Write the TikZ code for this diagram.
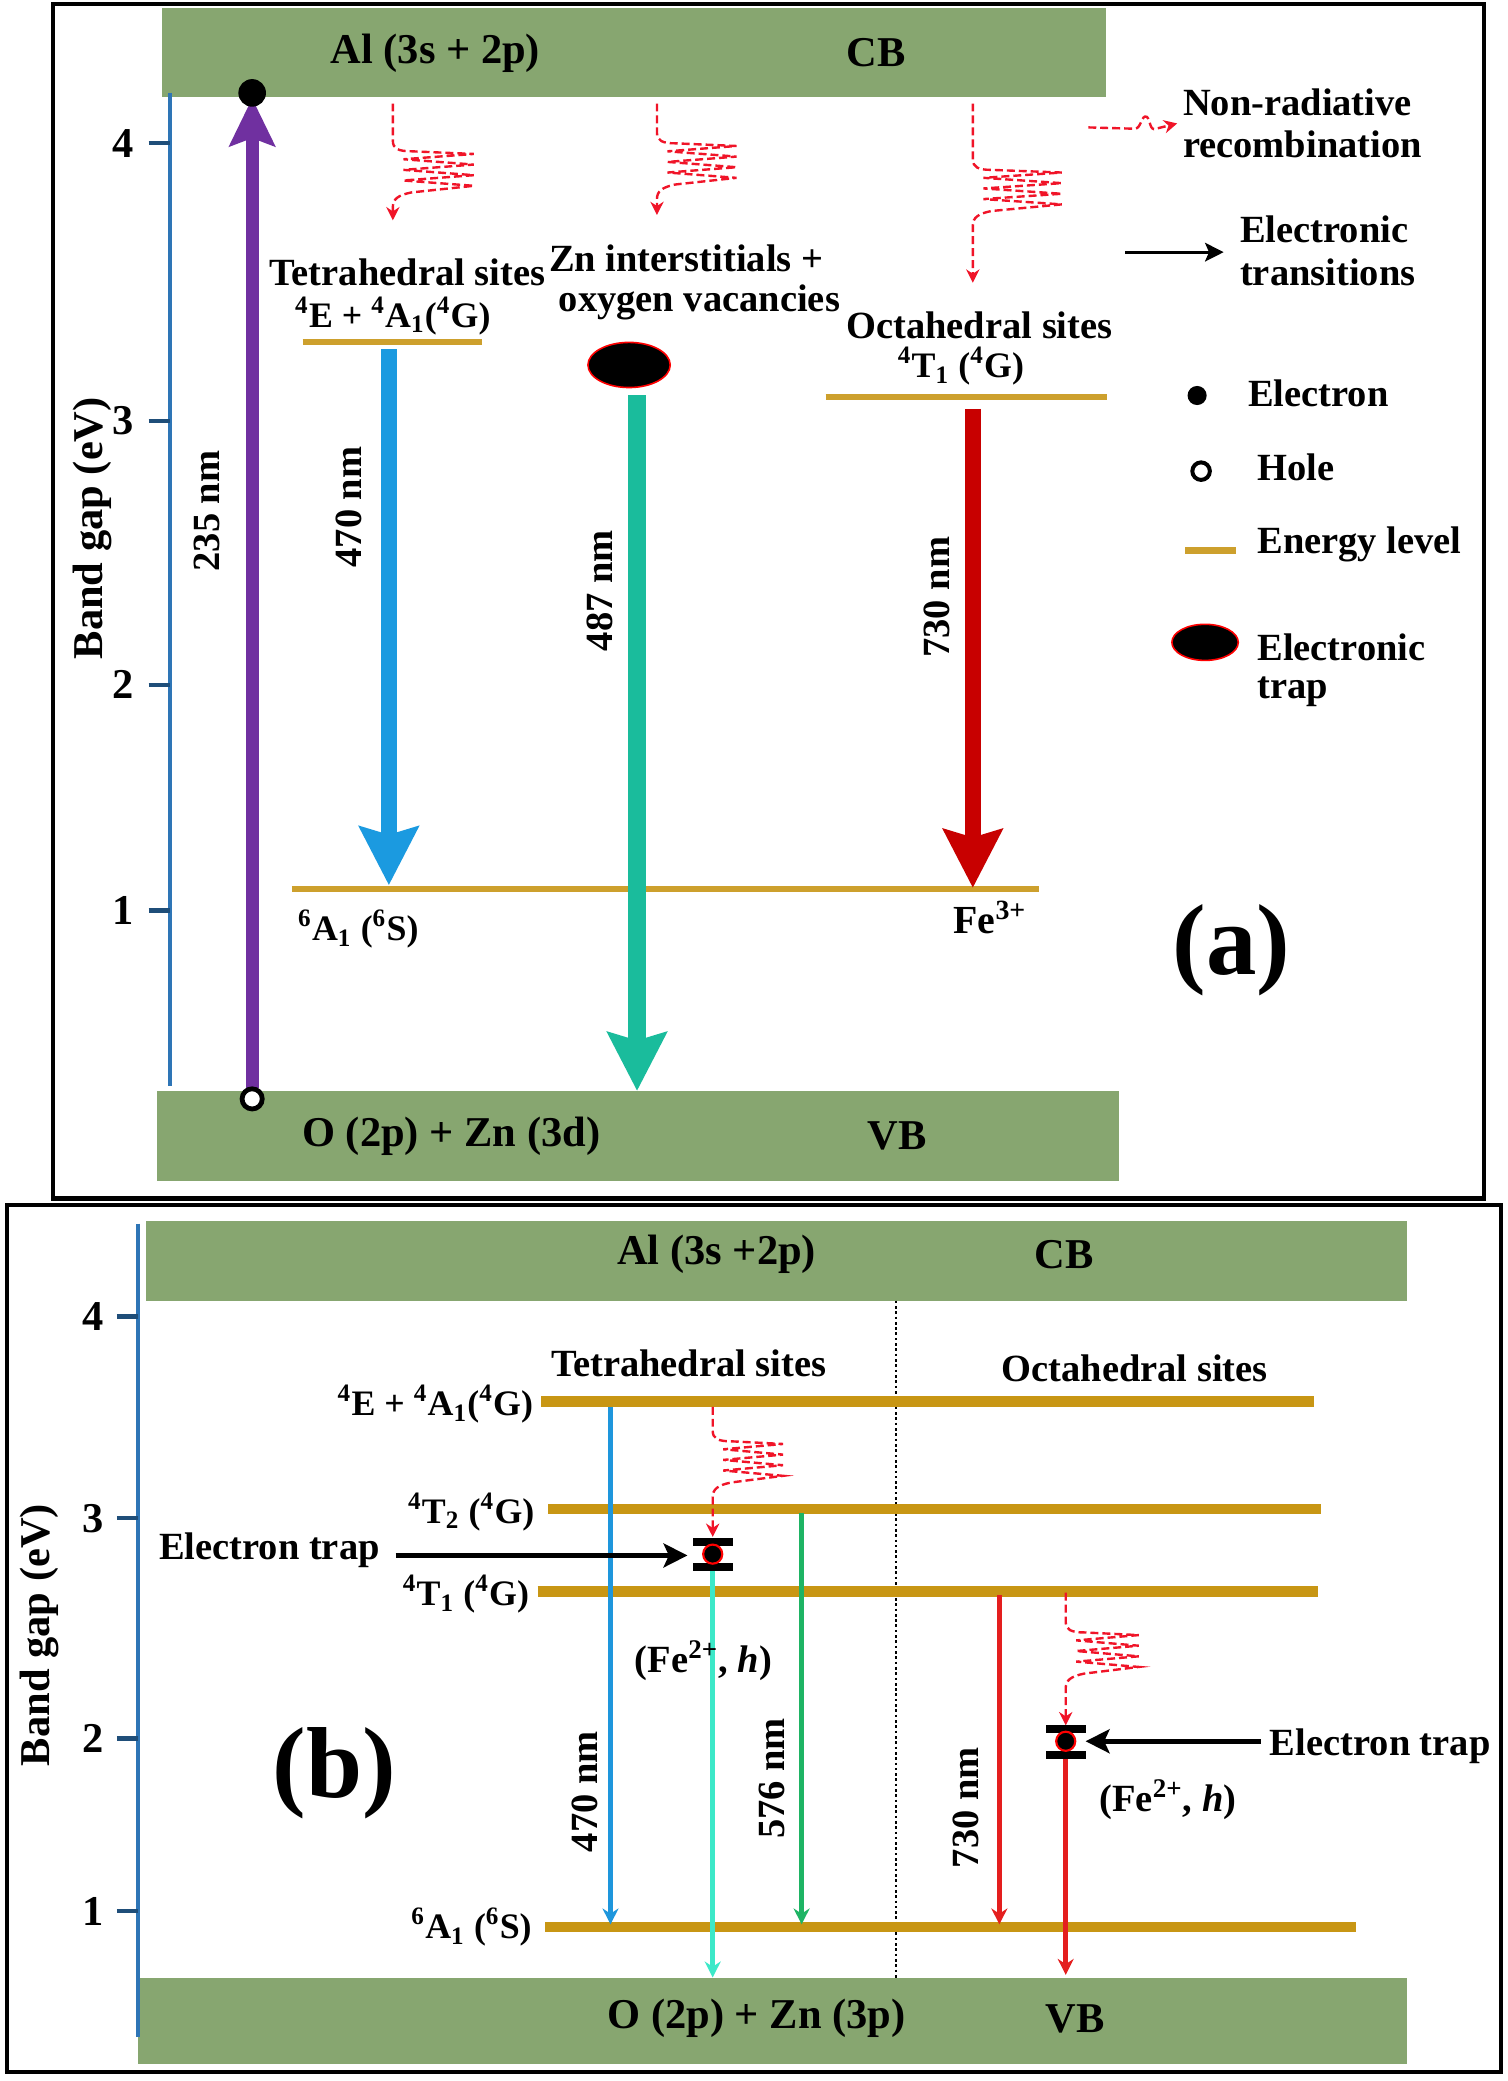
\documentclass[tikz,border=0pt]{standalone}
\usepackage{fontspec}
\setmainfont{Liberation Serif}
\usetikzlibrary{arrows.meta}
\definecolor{bandgreen}{RGB}{135,166,112}
\definecolor{goldA}{RGB}{205,160,45}
\definecolor{goldB}{RGB}{200,150,20}
\definecolor{axisblue}{RGB}{46,117,182}
\definecolor{tickblue}{RGB}{31,78,121}
\definecolor{purp}{RGB}{112,48,160}
\definecolor{ablue}{RGB}{27,154,224}
\definecolor{ateal}{RGB}{26,188,156}
\definecolor{ared}{RGB}{200,0,0}
\definecolor{bblue}{RGB}{30,150,220}
\definecolor{bcyan}{RGB}{60,232,200}
\definecolor{bgreen}{RGB}{30,180,100}
\definecolor{bred}{RGB}{228,30,30}
\definecolor{nrred}{RGB}{240,20,40}
\newcommand\sps[1]{\textsuperscript{#1}}
\newcommand\sbs[1]{\textsubscript{#1}}
\newcommand\nrwave[5]{%
  \draw[nrline] (#1,#2) -- (#1,#3) .. controls (#1,#3+6) and (#1+4,#3+8) .. (#1+14,#3+8)
   -- (#4,#3+10) -- (#1+8,#3+14) -- (#4,#3+18) -- (#1+8,#3+22) -- (#4,#3+26) -- (#1+8,#3+30) -- (#4,#3+34) -- (#1+14,#3+39)
   .. controls (#1+4,#3+41) and (#1,#3+44) .. (#1,#3+50) -- (#1,#5);}
\begin{document}
\begin{tikzpicture}[x=0.5pt,y=-0.5pt,
  every node/.style={font=\bfseries\fontsize{14.5}{16}\selectfont, inner sep=0pt},
  bandlbl/.style={font=\bfseries\fontsize{16}{18}\selectfont},
  lvl/.style={font=\bfseries\fontsize{13.5}{15}\selectfont},
  big/.style={font=\bfseries\fontsize{38}{40}\selectfont},
  axlbl/.style={font=\bfseries\fontsize{16}{18}\selectfont, rotate=90},
  nmlbl/.style={font=\bfseries\fontsize{14.5}{16}\selectfont, rotate=90},
  frame/.style={draw=black, line width=1.6pt},
  band/.style={fill=bandgreen},
  axisline/.style={draw=axisblue, line width=1.6pt},
  tick/.style={draw=tickblue, line width=1.6pt},
  levA/.style={draw=goldA, line width=2.2pt},
  levB/.style={draw=goldB, line width=4pt},
  nrline/.style={draw=nrred, line width=0.9pt, dash pattern=on 3pt off 1.5pt, -{Stealth[length=5pt,width=5pt]}},
  thickarrow/.style={line width=#1, -{Stealth[length=22pt,width=22pt,inset=3pt]}},
  thinarrow/.style={line width=1.8pt, -{Stealth[length=6pt,width=6pt]}},
  blackarrow/.style={draw=black, line width=2pt, -{Stealth[length=9pt,width=9pt,inset=2pt]}},
]
\useasboundingbox (0,0) rectangle (1136,1568);
\fill[white] (0,0) rectangle (1136,1568);

%% ================= Panel (a) =================
\draw[frame] (40,3) rectangle (1118,903);
\fill[band] (122,6) rectangle (833,73);
\fill[band] (118,822) rectangle (843,890);
\node[bandlbl] (cbA) at (328,40) {Al (3s + 2p)};
\node[bandlbl] (cbAt) at (660,40) {CB};
\node[bandlbl] (vbA) at (340,856) {O (2p) + Zn (3d)};
\node[bandlbl] (vbAt) at (676,856) {VB};

% axis
\coordinate (axAt) at (128,70);
\coordinate (axAb) at (128,818);
\draw[axisline] (axAt) -- (axAb);
\foreach \yy/\lab in {108/4,317/3,516/2,686/1}{
  \draw[tick] (112,\yy) -- (128,\yy);
  \node[font=\bfseries\fontsize{16}{18}\selectfont] at (93,\yy) {\lab};
}
\node[axlbl] (bgA) at (70,398) {Band gap (eV)};

% purple excitation
\coordinate (hA) at (190,828);
\coordinate (eA) at (190,70);
\draw[purp, line width=5pt, -{Stealth[length=18pt,width=17pt,inset=3pt]}] (190,820) -- (190,74);
\fill[black] (eA) circle[radius=5.2pt];
\draw[black, line width=1.8pt, fill=white] (hA) circle[radius=3.8pt];
\node[nmlbl] (n235) at (156,385) {235 nm};

% tetrahedral
\nrwave{296}{78}{106}{357}{166}
\node (tetA) at (307,205) {Tetrahedral sites};
\node[lvl] (tetAl) at (296,238) {\sps{4}E + \sps{4}A\sbs{1}(\sps{4}G)};
\coordinate (tAl) at (228,258); \coordinate (tAr) at (363,258);
\draw[levA] (tAl) -- (tAr);
\coordinate (bA1) at (293,263); \coordinate (bA2) at (293,667);
\draw[ablue, thickarrow=6pt] (bA1) -- (bA2);
\node[nmlbl] (n470a) at (263,382) {470 nm};

% ground level
\coordinate (gAl) at (220,670); \coordinate (gAr) at (783,670);
\draw[levA] (gAl) -- (gAr);
\node[lvl] (gAlab) at (270,700) {\sps{6}A\sbs{1} (\sps{6}S)};
\node[font=\bfseries\fontsize{15}{17}\selectfont] (fe3) at (746,691) {Fe\sps{3+}};

% Zn
\nrwave{495}{78}{100}{555}{162}
\node (zn1) at (517,195) {Zn interstitials +};
\node (zn2) at (527,228) {oxygen vacancies};
\draw[red, line width=0.6pt, fill=black] (474,275) ellipse[x radius=15.5pt, y radius=8.5pt];
\coordinate (tA1) at (480,298); \coordinate (tA2) at (480,822);
\draw[ateal, thickarrow=7pt] (tA1) -- (tA2);
\node[nmlbl] (n487) at (452,445) {487 nm};

% octahedral
\nrwave{733}{78}{120}{800}{213}
\node (octA) at (738,245) {Octahedral sites};
\node[lvl] (octAl) at (724,276) {\sps{4}T\sbs{1} (\sps{4}G)};
\coordinate (oAl) at (622,299); \coordinate (oAr) at (834,299);
\draw[levA] (oAl) -- (oAr);
\coordinate (rA1) at (733,308); \coordinate (rA2) at (733,669);
\draw[ared, thickarrow=6pt] (rA1) -- (rA2);
\node[nmlbl] (n730a) at (706,450) {730 nm};

% legend
\draw[nrline] (820,96) -- (855,97) .. controls (860,97) and (860,86) .. (864,88) .. controls (867,90) and (866,99) .. (871,97) -- (887,93);
\node[anchor=west] (lg1) at (891,77) {Non-radiative};
\node[anchor=west] (lg2) at (891,109) {recombination};
\coordinate (lgA1) at (848,190); \coordinate (lgA2) at (922,190);
\draw[black, line width=1.2pt, -{Stealth[length=7pt,width=7pt,inset=1.5pt]}] (lgA1) -- (lgA2);
\node[anchor=west] (lg3) at (934,173) {Electronic};
\node[anchor=west] (lg4) at (934,205) {transitions};
\fill[black] (902,298) circle[radius=3.6pt];
\node[anchor=west] (lg5) at (940,296) {Electron};
\draw[black, line width=1.5pt, fill=white] (905,355) circle[radius=3.3pt];
\node[anchor=west] (lg6) at (947,352) {Hole};
\draw[levA, line width=2.6pt] (893,415) -- (931,415);
\node[anchor=west] (lg7) at (947,410) {Energy level};
\draw[red, line width=0.6pt, fill=black] (908,484) ellipse[x radius=12.5pt, y radius=6.8pt];
\node[anchor=west] (lg8) at (947,488) {Electronic};
\node[anchor=west] (lg9) at (947,521) {trap};

\node[big] (pa) at (928,716) {(a)};

%% ================= Panel (b) =================
\draw[frame] (5,908) rectangle (1131,1561);
\fill[band] (110,920) rectangle (1060,980);
\fill[band] (104,1490) rectangle (1060,1555);
\node[bandlbl] (cbB) at (540,945) {Al (3s +2p)};
\node[bandlbl] (cbBt) at (802,945) {CB};
\node[bandlbl] (vbB) at (570,1521) {O (2p) + Zn (3p)};
\node[bandlbl] (vbBt) at (810,1521) {VB};

\coordinate (axBt) at (104,922);
\coordinate (axBb) at (104,1535);
\draw[axisline] (axBt) -- (axBb);
\foreach \yy/\lab in {992/4,1144/3,1310/2,1440/1}{
  \draw[tick] (88,\yy) -- (104,\yy);
  \node[font=\bfseries\fontsize{16}{18}\selectfont] at (70,\yy) {\lab};
}
\node[axlbl] (bgB) at (30,1232) {Band gap (eV)};

\coordinate (dv1) at (675,980); \coordinate (dv2) at (675,1490);
\draw[black, line width=0.9pt, dash pattern=on 1pt off 1pt] (dv1) -- (dv2);

\node (tetB) at (519,1027) {Tetrahedral sites};
\node (octB) at (855,1031) {Octahedral sites};

\draw[levB] (408,1056) -- (990,1056);
\node[lvl, anchor=east] (L1) at (402,1058) {\sps{4}E + \sps{4}A\sbs{1}(\sps{4}G)};
\draw[levB] (413,1137) -- (995,1137);
\node[lvl, anchor=east] (L2) at (403,1139) {\sps{4}T\sbs{2} (\sps{4}G)};
\draw[levB] (405,1199) -- (993,1199);
\node[lvl, anchor=east] (L3) at (399,1201) {\sps{4}T\sbs{1} (\sps{4}G)};
\draw[levB] (411,1452) -- (1022,1452);
\node[lvl, anchor=east] (L4) at (401,1452) {\sps{6}A\sbs{1} (\sps{6}S)};

% transitions
\coordinate (bb1) at (460,1060); \coordinate (bb2) at (460,1450);
\draw[bblue, thinarrow] (bb1) -- (bb2);
\node[nmlbl] (n470b) at (441,1350) {470 nm};

\nrwave{537}{1060}{1078}{590}{1158}
\coordinate (cb1) at (537,1180); \coordinate (cb2) at (537,1490);
\draw[bcyan, thinarrow] (cb1) -- (cb2);
\fill[black] (522,1159) rectangle (552,1165);
\fill[black] (522,1178) rectangle (552,1184);
\draw[red, line width=0.8pt, fill=black] (537,1171) circle[radius=3.6pt];
\node (fe2a) at (530,1251) {(Fe\sps{2+}, \textit{h})};

\coordinate (gb1) at (604,1140); \coordinate (gb2) at (604,1450);
\draw[bgreen, thinarrow] (gb1) -- (gb2);
\node[nmlbl] (n576) at (582,1340) {576 nm};

\coordinate (rb1) at (753,1202); \coordinate (rb2) at (753,1450);
\draw[bred, thinarrow] (rb1) -- (rb2);
\node[nmlbl] (n730b) at (728,1362) {730 nm};

\nrwave{803}{1200}{1222}{858}{1300}
\coordinate (rc1) at (803,1322); \coordinate (rc2) at (803,1488);
\draw[bred, thinarrow] (rc1) -- (rc2);
\fill[black] (788,1300) rectangle (818,1306);
\fill[black] (788,1319) rectangle (818,1325);
\draw[red, line width=0.8pt, fill=black] (803,1312) circle[radius=3.6pt];
\node (fe2b) at (880,1356) {(Fe\sps{2+}, \textit{h})};

\node (et1) at (203,1168) {Electron trap};
\coordinate (et1a) at (298,1172); \coordinate (et1b) at (518,1172);
\draw[blackarrow] (et1a) -- (et1b);
\node (et2) at (1040,1316) {Electron trap};
\coordinate (et2a) at (950,1312); \coordinate (et2b) at (818,1312);
\draw[blackarrow] (et2a) -- (et2b);

\node[big] (pb) at (252,1336) {(b)};
\end{tikzpicture}
\end{document}
